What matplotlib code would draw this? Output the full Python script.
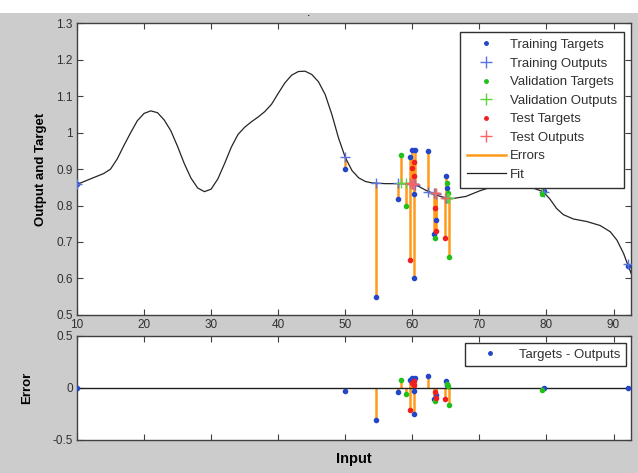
import numpy as np
import matplotlib
matplotlib.use("Agg")
import matplotlib.pyplot as plt
from matplotlib.lines import Line2D
from matplotlib.patches import Rectangle

plt.rcParams['font.family'] = ['Liberation Sans', 'DejaVu Sans']

# ---------------- data ----------------
x_train = [10.0, 50.0, 54.6, 57.9, 59.7, 60.0, 60.3, 60.3, 60.4, 62.4, 63.3, 63.5, 65.0, 65.2, 79.6, 92.1]
t_train = [0.858, 0.900, 0.549, 0.818, 0.932, 0.952, 0.831, 0.600, 0.952, 0.951, 0.721, 0.760, 0.881, 0.849, 0.840, 0.635]
o_train = [0.858, 0.934, 0.861, 0.861, 0.861, 0.860, 0.858, 0.858, 0.857, 0.838, 0.834, 0.832, 0.820, 0.820, 0.838, 0.638]

x_val = [58.3, 59.1, 63.4, 65.2, 65.4, 65.3, 79.3]
t_val = [0.939, 0.800, 0.710, 0.861, 0.658, 0.834, 0.832]
o_val = [0.861, 0.861, 0.834, 0.820, 0.820, 0.820, 0.850]

x_test = [59.7, 60.0, 60.2, 60.3, 63.4, 63.5, 64.8]
t_test = [0.650, 0.902, 0.920, 0.881, 0.792, 0.731, 0.710]
o_test = [0.861, 0.860, 0.859, 0.858, 0.834, 0.833, 0.820]

fit_x = [10, 12, 14, 15, 16, 17, 18, 19, 20, 21, 22, 23, 24, 25, 26, 27, 28, 29, 30,
         31, 32, 33, 34, 35, 36, 37, 38, 39, 40, 41, 42, 43, 44, 45, 46, 47, 48, 49,
         50, 51, 52, 53, 54, 56, 58, 60, 61, 62, 63, 64, 65, 66, 68, 70, 72, 74, 76,
         78, 79.5, 80.5, 81.5, 82.5, 84, 86, 88, 89.5, 90.5, 91.5, 92.1, 92.7]
fit_y = [0.858, 0.873, 0.888, 0.900, 0.928, 0.965, 1.000, 1.033, 1.053, 1.060, 1.055,
         1.035, 1.005, 0.962, 0.915, 0.875, 0.848, 0.838, 0.845, 0.873, 0.915, 0.960,
         0.995, 1.015, 1.030, 1.043, 1.058, 1.078, 1.108, 1.137, 1.158, 1.168, 1.169,
         1.160, 1.140, 1.105, 1.050, 0.985, 0.932, 0.896, 0.876, 0.866, 0.862, 0.860,
         0.860, 0.859, 0.852, 0.842, 0.834, 0.826, 0.821, 0.819, 0.825, 0.840, 0.852,
         0.858, 0.856, 0.848, 0.838, 0.818, 0.792, 0.775, 0.763, 0.756, 0.745, 0.728,
         0.705, 0.668, 0.638, 0.610]

top_yticks = [0.5, 0.6, 0.7, 0.8, 0.9, 1.0, 1.1, 1.2, 1.3]
top_yticklabels = ['0.5', '0.6', '0.7', '0.8', '0.9', '1', '1.1', '1.2', '1.3']
xticks = [10, 20, 30, 40, 50, 60, 70, 80, 90]
err_yticks = [-0.5, 0, 0.5]
err_yticklabels = ['-0.5', '0', '0.5']

# ---------------- style ----------------
BG = '#cccccc'
ORANGE = '#ff9a1a'
C_TT, C_TO = '#2347c8', '#5a72e0'
C_VT, C_VO = '#22c01a', '#5cd43a'
C_ST, C_SO = '#f02020', '#f86464'
TXT = '#303030'

fig = plt.figure(figsize=(6.38, 4.73), dpi=100, facecolor=BG)
fig.patches.append(Rectangle((0, 1 - 13 / 473), 1, 13 / 473, transform=fig.transFigure,
                             facecolor='white', edgecolor='none', zorder=0))
fig.text(0.483, 1 - 16 / 473, '.', ha='center', va='baseline', fontsize=9, color='black')

ax = fig.add_axes([77 / 638, 1 - 314.7 / 473, 554 / 638, 291.2 / 473])
ax2 = fig.add_axes([77 / 638, 1 - 439.5 / 473, 554 / 638, 103.5 / 473])

for a in (ax, ax2):
    a.set_facecolor('white')
    for s in a.spines.values():
        s.set_color('#404040')
        s.set_linewidth(1.0)
    a.tick_params(direction='in', top=True, right=True, length=4, width=0.8,
                  color='#404040', labelsize=8.5, labelcolor=TXT, pad=3)
    a.set_xlim(10, 92.6)
    a.set_xticks(xticks)

# ---------------- top plot ----------------
def errlines(a, xs, ts, os):
    a.vlines(xs, ts, os, colors=ORANGE, linewidth=1.8, zorder=2)

errlines(ax, x_train, t_train, o_train)
errlines(ax, x_val, t_val, o_val)
errlines(ax, x_test, t_test, o_test)
ax.plot(fit_x, fit_y, color='#252525', linewidth=0.9, zorder=3)

ms_dot, ms_plus = 6, 7
ax.plot(x_train, t_train, '.', color=C_TT, ms=ms_dot, zorder=4)
ax.plot(x_train, o_train, '+', color=C_TO, ms=ms_plus, mew=1.0, zorder=4)
ax.plot(x_val, t_val, '.', color=C_VT, ms=ms_dot, zorder=4)
ax.plot(x_val, o_val, '+', color=C_VO, ms=ms_plus, mew=1.0, zorder=4)
ax.plot(x_test, t_test, '.', color=C_ST, ms=ms_dot, zorder=4)
ax.plot(x_test, o_test, '+', color=C_SO, ms=ms_plus, mew=1.0, zorder=4)

ax.set_ylim(0.5, 1.3)
ax.set_yticks(top_yticks)
ax.set_yticklabels(top_yticklabels)
ax.set_xticklabels([str(v) for v in xticks])
ax.set_ylabel('Output and Target', fontsize=9.5, fontweight='bold', color='black', labelpad=7)

handles = [
    Line2D([], [], ls='none', marker='.', color=C_TT, ms=5),
    Line2D([], [], ls='none', marker='+', color=C_TO, ms=8, mew=1.0),
    Line2D([], [], ls='none', marker='.', color=C_VT, ms=5),
    Line2D([], [], ls='none', marker='+', color=C_VO, ms=8, mew=1.0),
    Line2D([], [], ls='none', marker='.', color=C_ST, ms=5),
    Line2D([], [], ls='none', marker='+', color=C_SO, ms=8, mew=1.0),
    Line2D([], [], color=ORANGE, lw=1.8),
    Line2D([], [], color='#202020', lw=0.9),
]
labels = ['Training Targets', 'Training Outputs', 'Validation Targets',
          'Validation Outputs', 'Test Targets', 'Test Outputs', 'Errors', 'Fit']
leg = ax.legend(handles, labels, loc='upper right', bbox_to_anchor=(0.987, 0.970),
                fontsize=9.5, frameon=True, fancybox=False, framealpha=1,
                edgecolor='#303030', handlelength=3.0, handletextpad=0.3,
                labelspacing=0.48, borderpad=0.5, borderaxespad=0)
leg.get_frame().set_linewidth(1.0)
for t in leg.get_texts():
    t.set_color(TXT)
leg.set_zorder(10)

# ---------------- error plot ----------------
e_train = np.array(t_train) - np.array(o_train)
e_val = np.array(t_val) - np.array(o_val)
e_test = np.array(t_test) - np.array(o_test)

ax2.axhline(0, color='#202020', linewidth=1.0, zorder=3)
ax2.vlines(x_train, 0, e_train, colors=ORANGE, linewidth=1.8, zorder=2)
ax2.vlines(x_val, 0, e_val, colors=ORANGE, linewidth=1.8, zorder=2)
ax2.vlines(x_test, 0, e_test, colors=ORANGE, linewidth=1.8, zorder=2)
ax2.plot(x_train, e_train, '.', color=C_TT, ms=ms_dot, zorder=4)
ax2.plot(x_val, e_val, '.', color=C_VT, ms=ms_dot, zorder=4)
ax2.plot(x_test, e_test, '.', color=C_ST, ms=ms_dot, zorder=4)

ax2.set_ylim(-0.5, 0.5)
ax2.set_yticks(err_yticks)
ax2.set_yticklabels(err_yticklabels)
ax2.set_xticklabels([])
ax2.set_ylabel('Error', fontsize=9.5, fontweight='bold', color='black', labelpad=14)
ax2.set_xlabel('Input', fontsize=10.5, fontweight='bold', color='black', labelpad=6)

leg2 = ax2.legend([Line2D([], [], ls='none', marker='.', color=C_TT, ms=5)],
                  ['Targets - Outputs'], loc='upper right', bbox_to_anchor=(0.991, 0.932),
                  fontsize=9.5, frameon=True, fancybox=False, framealpha=1,
                  edgecolor='#303030', handlelength=3.0, handletextpad=0.7,
                  borderpad=0.4, borderaxespad=0)
leg2.get_frame().set_linewidth(1.0)
for t in leg2.get_texts():
    t.set_color(TXT)

fig.savefig('out.png', dpi=100, facecolor=BG)
